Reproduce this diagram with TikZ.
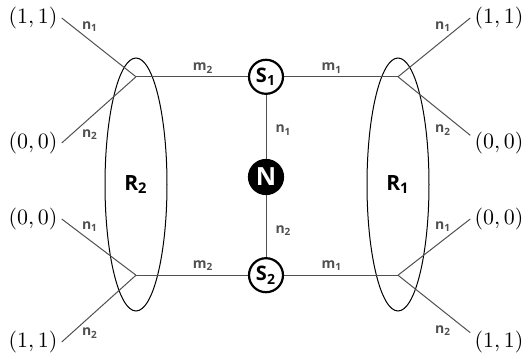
\documentclass[tikz,border=0pt]{standalone}
\usepackage{fontspec}
\setsansfont{Open Sans}
\usetikzlibrary{positioning,shapes.geometric}
\definecolor{wiregray}{HTML}{505050}
\newcommand{\idx}[2]{#1\textsubscript{#2}}

\begin{document}
\begin{tikzpicture}[x=0.5pt, y=-0.5pt,
    every node/.style={font=\sffamily\bfseries},
    wire/.style={wiregray, line width=0.5pt},
    station/.style={circle, draw, line width=1.1pt, minimum size=17pt, inner sep=0pt, font=\sffamily\bfseries\fontsize{10}{11}\selectfont},
    hub/.style={station, fill=black, text=white, font=\sffamily\bfseries\fontsize{12.5}{13}\selectfont},
    region/.style={ellipse, draw, line width=0.5pt, minimum width=31pt, minimum height=126.5pt, inner sep=0pt, font=\sffamily\bfseries\fontsize{10.5}{12}\selectfont},
    lab/.style={inner sep=0pt, font=\sffamily\bfseries\fontsize{7}{8}\selectfont},
    pair/.style={inner sep=2pt, font=\fontsize{10.5}{12}\selectfont}]
  \useasboundingbox (0,0) rectangle (526,358);
  % relay column
  \node[hub] (n) at (266,177) {N};
  \node[station, above=32pt of n] (s1) {\idx{S}{1}};
  \node[station, below=31pt of n] (s2) {\idx{S}{2}};
  % receiver regions
  \node[region] (r2) at (136,184.5) {\idx{R}{2}};
  \node[region] (r1) at (398,184.5) {\idx{R}{1}};
  \coordinate (jtl) at (r2 |- s1);
  \coordinate (jbl) at (r2 |- s2);
  \coordinate (jtr) at (r1 |- s1);
  \coordinate (jbr) at (r1 |- s2);
  % end values
  \node[pair] (a1) at (33,18) {$(1,1)$};
  \node[pair] (a2) at (33,143) {$(0,0)$};
  \node[pair] (a3) at (33,219) {$(0,0)$};
  \node[pair] (a4) at (33,342) {$(1,1)$};
  \node[pair] (b1) at (499,18) {$(1,1)$};
  \node[pair] (b2) at (499,143) {$(0,0)$};
  \node[pair] (b3) at (499,219) {$(0,0)$};
  \node[pair] (b4) at (499,342) {$(1,1)$};
  % upper branch
  \draw[wire] (a1.east) -- node[lab, pos=.38, above=4pt] {\idx{n}{1}} (jtl);
  \draw[wire] (a2.east) -- node[lab, pos=.38, below=5.5pt] {\idx{n}{2}} (jtl);
  \draw[wire] (jtl) -- node[lab, pos=.6, above=1.5pt] {\idx{m}{2}} (s1);
  \draw[wire] (s1) -- node[lab, pos=.42, above=1.5pt] {\idx{m}{1}} (jtr);
  \draw[wire] (b1.west) -- node[lab, pos=.375, above=4pt] {\idx{n}{1}} (jtr);
  \draw[wire] (b2.165) -- node[lab, pos=.375, below=5.5pt] {\idx{n}{2}} (jtr);
  % middle
  \draw[wire] (s1) -- node[lab, pos=.55, right=4.5pt] {\idx{n}{1}} (n);
  \draw[wire] (n) -- node[lab, pos=.57, right=4.5pt] {\idx{n}{2}} (s2);
  % lower branch
  \draw[wire] (a3.east) -- node[lab, pos=.38, above=4pt] {\idx{n}{1}} (jbl);
  \draw[wire] (a4.east) -- node[lab, pos=.38, below=5.5pt] {\idx{n}{2}} (jbl);
  \draw[wire] (jbl) -- node[lab, pos=.6, above=2pt] {\idx{m}{2}} (s2);
  \draw[wire] (s2) -- node[lab, pos=.42, above=2pt] {\idx{m}{1}} (jbr);
  \draw[wire] (b3.west) -- node[lab, pos=.375, above=4pt] {\idx{n}{1}} (jbr);
  \draw[wire] (b4.162) -- node[lab, pos=.375, below=7pt] {\idx{n}{2}} (jbr);
\end{tikzpicture}
\end{document}
